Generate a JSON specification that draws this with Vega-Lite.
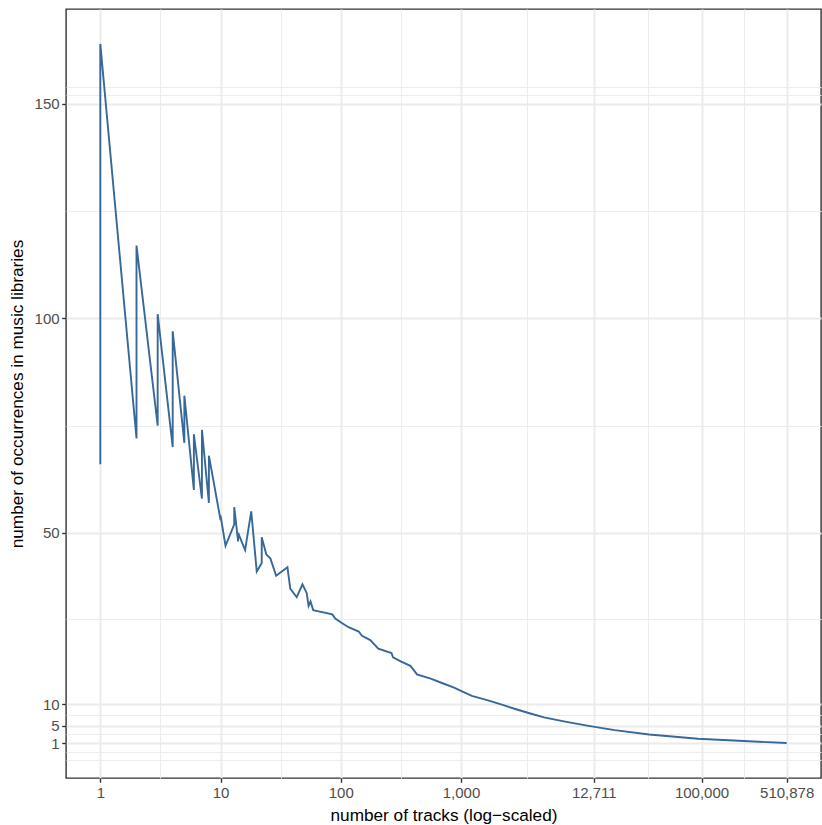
{
  "$schema": "https://vega.github.io/schema/vega-lite/v6.json",
  "width": 755,
  "height": 769,
  "autosize": {"type": "none"},
  "padding": {"left": 66, "top": 9, "right": 1, "bottom": 47},
  "background": "white",
  "config": {"view": {"stroke": "#333333", "strokeWidth": 1.4}, "font": "Liberation Sans"},
  "data": {"values": [
    {"tracks": 1, "occurrences": 66}, {"tracks": 1, "occurrences": 164},
    {"tracks": 2, "occurrences": 72}, {"tracks": 2, "occurrences": 117},
    {"tracks": 3, "occurrences": 75}, {"tracks": 3, "occurrences": 101},
    {"tracks": 4, "occurrences": 70}, {"tracks": 4, "occurrences": 97},
    {"tracks": 5, "occurrences": 71}, {"tracks": 5, "occurrences": 82},
    {"tracks": 6, "occurrences": 60}, {"tracks": 6, "occurrences": 73},
    {"tracks": 7, "occurrences": 58}, {"tracks": 7, "occurrences": 74},
    {"tracks": 8, "occurrences": 57}, {"tracks": 8, "occurrences": 68},
    {"tracks": 10, "occurrences": 53}, {"tracks": 10, "occurrences": 54},
    {"tracks": 11, "occurrences": 47},
    {"tracks": 13, "occurrences": 52}, {"tracks": 13, "occurrences": 56},
    {"tracks": 14, "occurrences": 48}, {"tracks": 14, "occurrences": 50},
    {"tracks": 16, "occurrences": 46},
    {"tracks": 18, "occurrences": 55},
    {"tracks": 20, "occurrences": 41},
    {"tracks": 21, "occurrences": 42},
    {"tracks": 22, "occurrences": 43}, {"tracks": 22, "occurrences": 49},
    {"tracks": 24, "occurrences": 45},
    {"tracks": 26, "occurrences": 44},
    {"tracks": 29, "occurrences": 40},
    {"tracks": 36, "occurrences": 42},
    {"tracks": 38, "occurrences": 37},
    {"tracks": 43, "occurrences": 35},
    {"tracks": 48, "occurrences": 38},
    {"tracks": 52, "occurrences": 36},
    {"tracks": 54, "occurrences": 33},
    {"tracks": 56, "occurrences": 34},
    {"tracks": 59, "occurrences": 32},
    {"tracks": 85, "occurrences": 31},
    {"tracks": 90, "occurrences": 30},
    {"tracks": 102, "occurrences": 29},
    {"tracks": 116, "occurrences": 28},
    {"tracks": 141, "occurrences": 27},
    {"tracks": 150, "occurrences": 26},
    {"tracks": 176, "occurrences": 25},
    {"tracks": 190, "occurrences": 24},
    {"tracks": 205, "occurrences": 23},
    {"tracks": 264, "occurrences": 22},
    {"tracks": 272, "occurrences": 21},
    {"tracks": 318, "occurrences": 20},
    {"tracks": 379, "occurrences": 19},
    {"tracks": 405, "occurrences": 18},
    {"tracks": 430, "occurrences": 17},
    {"tracks": 560, "occurrences": 16},
    {"tracks": 693, "occurrences": 15},
    {"tracks": 866, "occurrences": 14},
    {"tracks": 1030, "occurrences": 13},
    {"tracks": 1230, "occurrences": 12},
    {"tracks": 1650, "occurrences": 11},
    {"tracks": 2150, "occurrences": 10},
    {"tracks": 2780, "occurrences": 9},
    {"tracks": 3650, "occurrences": 8},
    {"tracks": 4900, "occurrences": 7},
    {"tracks": 7330, "occurrences": 6},
    {"tracks": 11500, "occurrences": 5},
    {"tracks": 19000, "occurrences": 4},
    {"tracks": 36600, "occurrences": 3},
    {"tracks": 93500, "occurrences": 2},
    {"tracks": 510878, "occurrences": 1}
  ]},
  "mark": {"type": "line", "color": "#36689a", "strokeWidth": 1.9, "clip": true},
  "encoding": {
    "x": {
      "field": "tracks",
      "type": "quantitative",
      "scale": {"type": "log", "domain": [0.5184, 985700], "nice": false},
      "axis": {
        "values": [1, 3.1623, 10, 31.623, 100, 316.23, 1000, 3565.3, 12711, 35652, 100000, 226026, 510878],
        "labelExpr": "indexof([1,10,100,1000,12711,100000,510878], datum.value) >= 0 ? format(datum.value, ',') : ''",
        "title": "number of tracks (log−scaled)",
        "domain": false,
        "grid": true,
        "gridColor": "#EBEBEB",
        "gridWidth": {"condition": {"test": "indexof([1,10,100,1000,12711,100000,510878], datum.value) >= 0", "value": 1.9}, "value": 0.95},
        "tickColor": "#333333",
        "tickOpacity": {"condition": {"test": "indexof([1,10,100,1000,12711,100000,510878], datum.value) >= 0", "value": 1}, "value": 0},
        "tickSize": 4.3,
        "tickWidth": 1.4,
        "labelFont": "Liberation Sans",
        "labelFontSize": 15,
        "labelColor": "#4D4D4D",
        "labelPadding": 3,
        "labelOverlap": false,
        "labelFlush": false,
        "titleFont": "Liberation Sans",
        "titleFontSize": 17.2,
        "titleFontWeight": "normal",
        "titleColor": "#000000",
        "titlePadding": 6
      }
    },
    "y": {
      "field": "occurrences",
      "type": "quantitative",
      "scale": {"domain": [-7.15, 172.15], "nice": false, "zero": false},
      "axis": {
        "values": [-3, -1, 1, 3, 5, 7.5, 10, 30, 50, 75, 100, 125, 150, 152, 154],
        "labelExpr": "indexof([1,5,10,50,100,150], datum.value) >= 0 ? datum.label : ''",
        "title": "number of occurrences in music libraries",
        "domain": false,
        "grid": true,
        "gridColor": "#EBEBEB",
        "gridWidth": {"condition": {"test": "indexof([1,5,10,50,100,150], datum.value) >= 0", "value": 1.9}, "value": 0.95},
        "tickColor": "#333333",
        "tickOpacity": {"condition": {"test": "indexof([1,5,10,50,100,150], datum.value) >= 0", "value": 1}, "value": 0},
        "tickSize": 4.3,
        "tickWidth": 1.4,
        "labelFont": "Liberation Sans",
        "labelFontSize": 15,
        "labelColor": "#4D4D4D",
        "labelPadding": 2.6,
        "labelOverlap": false,
        "labelFlush": false,
        "titleFont": "Liberation Sans",
        "titleFontSize": 17.2,
        "titleFontWeight": "normal",
        "titleColor": "#000000",
        "titlePadding": 8
      }
    },
    "order": {"value": null}
  }
}
